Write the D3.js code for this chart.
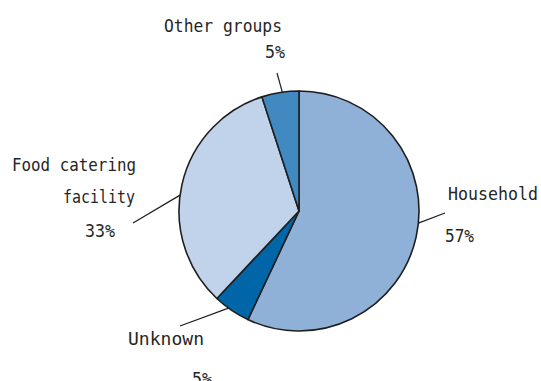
<!DOCTYPE html>
<html>
<head>
<meta charset="utf-8">
<script src="https://cdn.jsdelivr.net/npm/d3@7"></script>
<style>
  html, body { margin: 0; padding: 0; background: #fff; }
  svg { display: block; }
  text { font-family: "DejaVu Sans Mono", "Liberation Mono", monospace; font-size: 17px; fill: #262626; }
</style>
</head>
<body>
<svg id="chart" width="541" height="381"></svg>
<script>
// Share of cases by setting (percent), clockwise from 12 o'clock
const categories = ["Household", "Unknown", "Food catering facility", "Other groups"];
const values = [57, 5, 33, 5];
const valueLabels = ["57%", "5%", "33%", "5%"];
const colors = ["#8fb0d7", "#0066a8", "#c1d3ea", "#4189c1"];

// Label placement: text lines (position, anchor, set width) and leader line geometry
const labelLayout = [
  { lines: [{ t: "Household", x: 448, y: 200, a: "start", w: 90 }, { t: "57%", x: 445, y: 241.5, a: "start", w: 29 }],
    angle: 95.8, end: [445, 213] },
  { lines: [{ t: "Unknown", x: 128, y: 345, a: "start", w: 76 }, { t: "5%", x: 202, y: 384.5, a: "middle", w: 20 }],
    angle: 216, end: [180, 326] },
  { lines: [{ t: "Food catering", x: 136, y: 171, a: "end", w: 124 }, { t: "facility", x: 135, y: 203, a: "end", w: 72 }, { t: "33%", x: 100, y: 237, a: "middle", w: 30 }],
    angle: 277.6, end: [133, 223] },
  { lines: [{ t: "Other groups", x: 223, y: 32, a: "middle", w: 118 }, { t: "5%", x: 275, y: 58, a: "middle", w: 20 }],
    angle: 352, end: [277, 73] }
];

const cx = 299, cy = 211, r = 120;
const svg = d3.select("#chart");
const g = svg.append("g").attr("transform", `translate(${cx},${cy})`);

const pie = d3.pie().sort(null).value(d => d.v);
const data = pie(categories.map((c, i) => ({ c, v: values[i], i })));
const arc = d3.arc().innerRadius(0).outerRadius(r);

g.selectAll("path.slice")
  .data(data)
  .join("path")
  .attr("class", "slice")
  .attr("d", arc)
  .attr("fill", d => colors[d.data.i])
  .attr("stroke", "#1e1e1e")
  .attr("stroke-width", 1.6)
  .attr("stroke-linejoin", "round");

// Leader lines from the rim to each label
const rad = Math.PI / 180;
svg.selectAll("line.leader")
  .data(labelLayout)
  .join("line")
  .attr("class", "leader")
  .attr("x1", d => cx + r * Math.sin(d.angle * rad))
  .attr("y1", d => cy - r * Math.cos(d.angle * rad))
  .attr("x2", d => d.end[0])
  .attr("y2", d => d.end[1])
  .attr("stroke", "#1e1e1e")
  .attr("stroke-width", 1.2);

// Category names and values
labelLayout.forEach((lab, i) => {
  lab.lines.forEach((ln, j) => {
    const isValue = j === lab.lines.length - 1;
    svg.append("text")
      .attr("x", ln.x)
      .attr("y", ln.y)
      .attr("text-anchor", ln.a)
      .attr("textLength", ln.w)
      .attr("lengthAdjust", "spacingAndGlyphs")
      .text(isValue ? valueLabels[i] : ln.t);
  });
});
</script>
</body>
</html>
